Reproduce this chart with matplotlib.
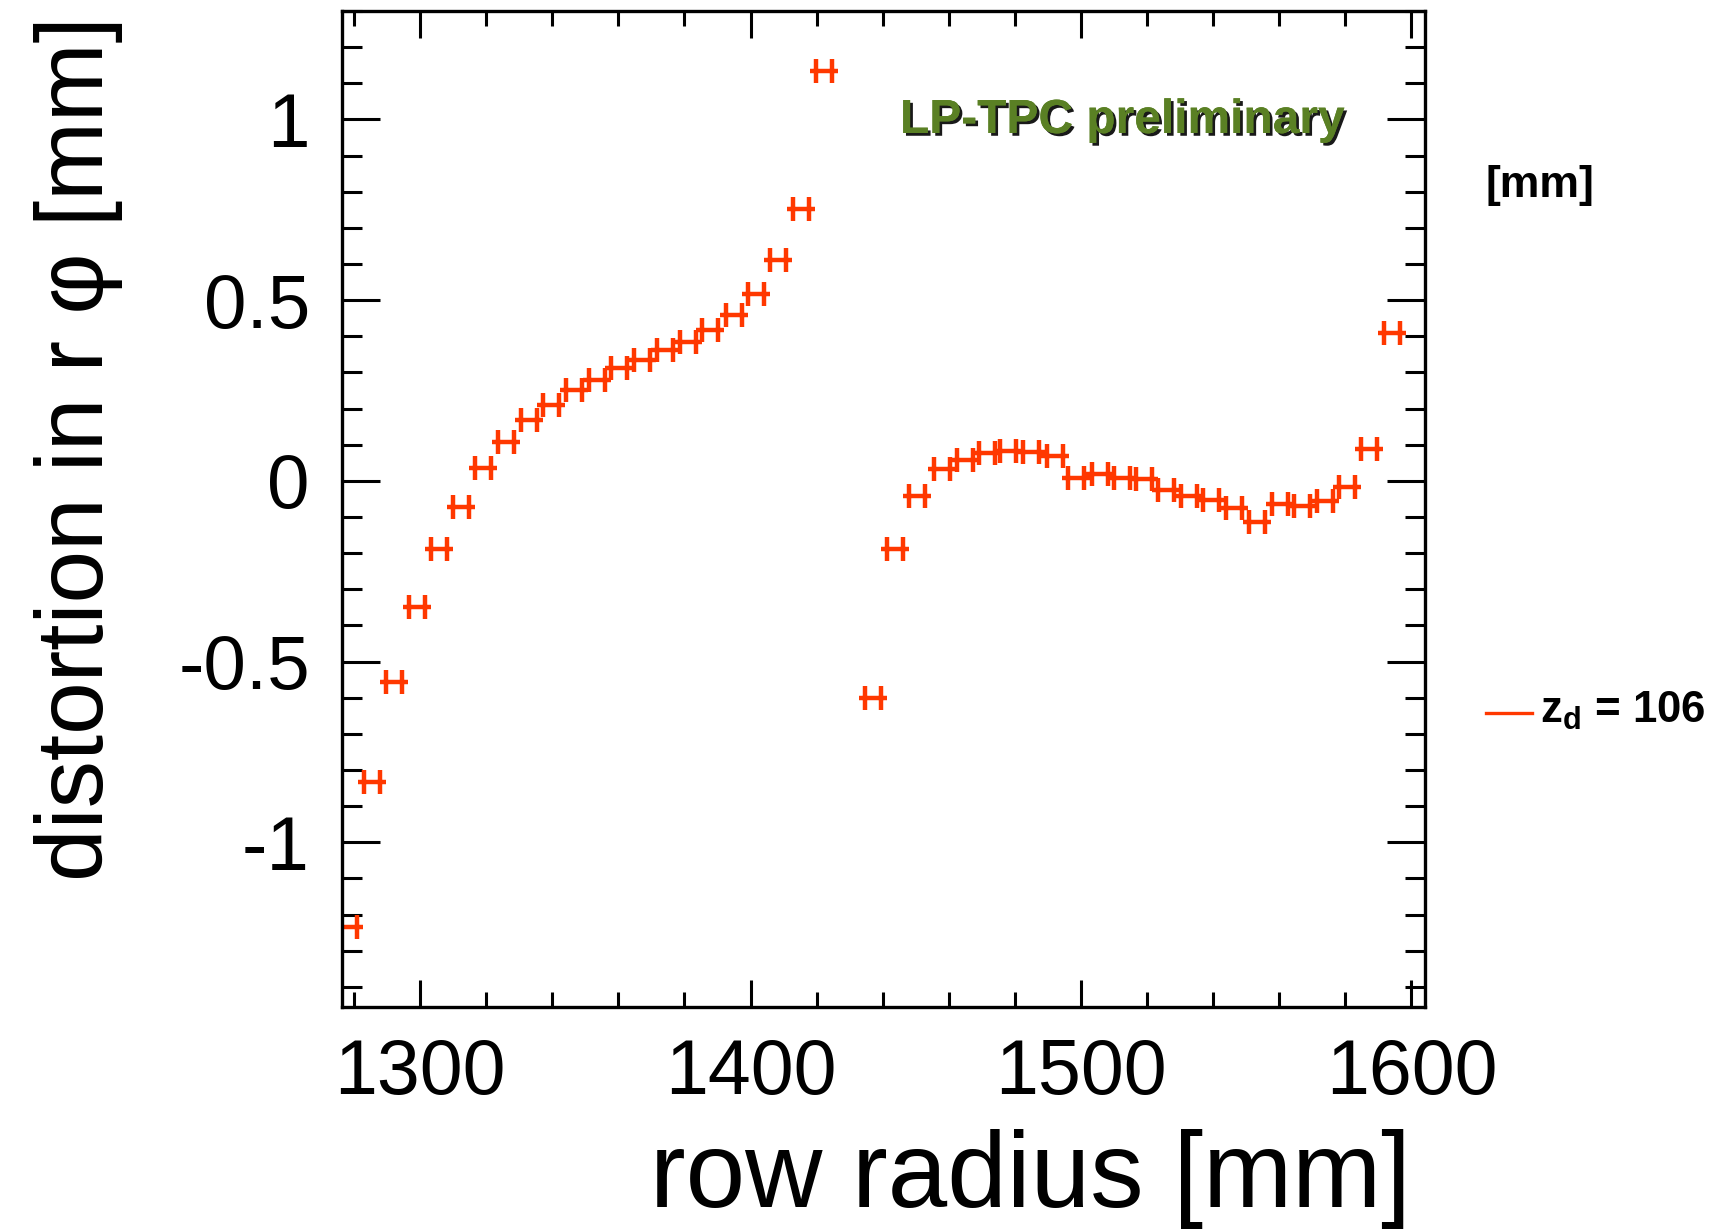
import matplotlib
matplotlib.use("Agg")
import matplotlib.pyplot as plt
from matplotlib.path import Path
from matplotlib.ticker import MultipleLocator
import matplotlib.patheffects as pe

plt.rcParams['font.family'] = ['Liberation Sans', 'DejaVu Sans']
plt.rcParams['axes.unicode_minus'] = False
plt.rcParams['mathtext.fontset'] = 'custom'
plt.rcParams['mathtext.rm'] = 'Liberation Sans'
plt.rcParams['mathtext.bf'] = 'Liberation Sans:bold'

# ---- data ----
r_inner = [1278.5, 1285.3, 1292.0, 1299.0, 1305.8, 1312.4, 1319.0, 1326.0, 1332.9,
           1339.6, 1346.7, 1353.5, 1360.3, 1367.0, 1374.2, 1381.0, 1387.8, 1394.9,
           1401.7, 1408.4, 1415.4, 1422.2]
d_inner = [-1.234, -0.834, -0.557, -0.348, -0.189, -0.071, 0.036, 0.108, 0.168,
           0.210, 0.251, 0.279, 0.311, 0.334, 0.362, 0.385, 0.417, 0.459,
           0.517, 0.611, 0.753, 1.133]
r_outer = [1437.0, 1443.8, 1450.4, 1457.9, 1464.8, 1471.4, 1478.0, 1485.0, 1492.0,
           1498.6, 1505.6, 1512.5, 1519.1, 1525.7, 1532.6, 1539.4, 1546.2, 1553.3,
           1560.2, 1566.9, 1573.8, 1580.4, 1587.2, 1594.0]
d_outer = [-0.602, -0.189, -0.042, 0.032, 0.059, 0.076, 0.083, 0.080, 0.068,
           0.008, 0.020, 0.009, 0.006, -0.025, -0.042, -0.053, -0.074, -0.114,
           -0.063, -0.070, -0.055, -0.017, 0.088, 0.409]
x_ticks = [1300, 1400, 1500, 1600]
y_ticks = [-1, -0.5, 0, 0.5, 1]
y_tick_labels = ['-1', '-0.5', '0', '0.5', '1']
legend_label = r'$\mathbf{z_d}$ = 106'

red = '#ff3800'
green = '#5a8024'

fig = plt.figure(figsize=(17.29, 12.29), dpi=100)
ax = fig.add_axes([0.1977, 0.1808, 0.6263, 0.8103])

# marker: horizontal bar with two vertical caps
verts = [(-12, 0), (12, 0), (-6.8, -10.5), (-6.8, 10.5), (6.8, -10.5), (6.8, 10.5)]
codes = [Path.MOVETO, Path.LINETO, Path.MOVETO, Path.LINETO, Path.MOVETO, Path.LINETO]
hmark = Path(verts, codes)

for r, d in ((r_inner, d_inner), (r_outer, d_outer)):
    ax.plot(r, d, linestyle='none', marker=hmark, markersize=19.5,
            markeredgewidth=3.2, color=red, markerfacecolor='none')

ax.set_xlim(1276.3, 1604.0)
ax.set_ylim(-1.455, 1.30)
ax.set_xticks(x_ticks)
ax.set_xticklabels([str(v) for v in x_ticks])
ax.set_yticks(y_ticks)
ax.set_yticklabels(y_tick_labels)
ax.xaxis.set_minor_locator(MultipleLocator(20))
ax.yaxis.set_minor_locator(MultipleLocator(0.1))

ax.tick_params(axis='both', which='both', direction='in', top=True, right=True,
               width=2.2, color='black')
ax.tick_params(axis='x', which='major', length=19.5, pad=22, labelsize=55.5)
ax.tick_params(axis='x', which='minor', length=10.8)
ax.tick_params(axis='y', which='major', length=27.5, pad=23, labelsize=55)
ax.tick_params(axis='y', which='minor', length=14.4)
for s in ax.spines.values():
    s.set_linewidth(2.4)

# axis titles
fig.text(1030 / 1729, 1 - 1207 / 1229, 'row radius [mm]', fontsize=77,
         ha='center', va='baseline')
fig.text(34 / 1729, 1 - 449 / 1229, 'distortion in r \u03c6 [mm]', fontsize=68,
         rotation=90, ha='left', va='center')

# label
fig.text(900 / 1729, 1 - 133 / 1229, 'LP-TPC preliminary', fontsize=34.5,
         fontweight='bold', color=green, ha='left', va='baseline',
         path_effects=[pe.withSimplePatchShadow(offset=(2, -2), shadow_rgbFace='black',
                                                alpha=0.9), pe.Normal()])

# legend-like annotations outside the frame
fig.text(1485 / 1729, 1 - 197 / 1229, '[mm]', fontsize=32, fontweight='bold',
         ha='left', va='baseline')
fig.add_artist(plt.Line2D([1486 / 1729, 1532 / 1729], [1 - 713 / 1229, 1 - 713 / 1229],
                          color=red, linewidth=2.4, transform=fig.transFigure))
fig.text(1540 / 1729, 1 - 723 / 1229, legend_label, fontsize=31.5, fontweight='bold',
         ha='left', va='baseline')

fig.savefig('out.png', dpi=100, facecolor='white')
